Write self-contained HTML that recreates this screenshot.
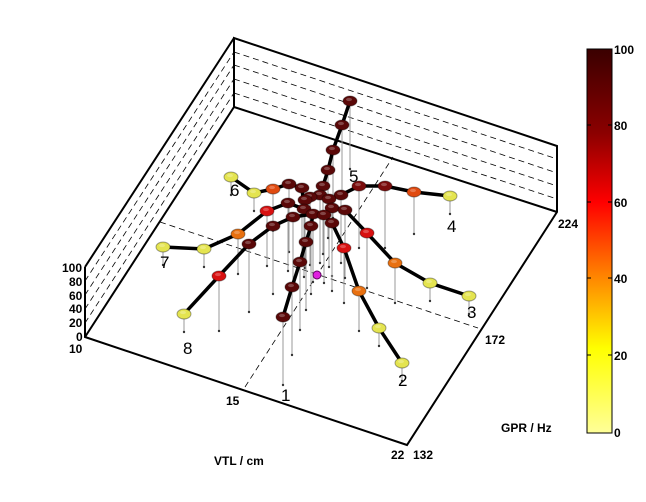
<!DOCTYPE html>
<html><head><meta charset="utf-8"><style>
html,body{margin:0;padding:0;background:#fff;}
svg{display:block;font-family:"Liberation Sans",Arial,sans-serif;}
</style></head><body>
<svg id="s" width="646" height="502" viewBox="0 0 646 502" xmlns="http://www.w3.org/2000/svg">
<defs>
<linearGradient id="cb" x1="0" y1="0" x2="0" y2="1">
<stop offset="0" stop-color="#3a0000"/><stop offset="0.22" stop-color="#8c0000"/>
<stop offset="0.4" stop-color="#ff0000"/><stop offset="0.6" stop-color="#ff8a00"/>
<stop offset="0.78" stop-color="#ffff00"/><stop offset="1" stop-color="#ffff99"/>
</linearGradient>
</defs>
<g fill="none" stroke="#000" stroke-width="0.8" stroke-dasharray="6,4">
<line x1="234" y1="93" x2="557" y2="199"/><line x1="234" y1="79" x2="557" y2="186"/>
<line x1="234" y1="65" x2="557" y2="173"/><line x1="234" y1="52" x2="557" y2="159"/>
<line x1="85" y1="323" x2="234" y2="93"/><line x1="85" y1="309" x2="234" y2="79"/>
<line x1="85" y1="295" x2="234" y2="65"/><line x1="85" y1="281" x2="234" y2="52"/>
<line x1="245" y1="387" x2="393" y2="157"/><line x1="160" y1="222" x2="478" y2="328"/>
</g>
<g fill="none" stroke="#000" stroke-width="2">
<polyline points="85,267 85,337 407,445 557,212 557,146 234,38 234,107 557,212"/>
<line x1="85" y1="267" x2="234" y2="38"/><line x1="85" y1="337" x2="234" y2="107"/>
</g>
<g font-size="12" font-weight="bold" fill="#000">
<text x="62" y="272">100</text><text x="69" y="286">80</text><text x="69" y="300">60</text>
<text x="69" y="313">40</text><text x="69" y="327">20</text><text x="76" y="341">0</text>
<text x="69" y="353">10</text>
<text x="226" y="405">15</text><text x="391" y="459">22</text><text x="413" y="459">132</text>
<text x="485" y="344">172</text><text x="558" y="228">224</text>
<text x="501" y="432">GPR / Hz</text><text x="214" y="465">VTL / cm</text>
</g>
<g id="drops" stroke="#999" stroke-width="1"></g>
<g id="links" stroke="#000" stroke-width="3.5" fill="none" stroke-linecap="round"></g>
<g id="nodes"></g>
<circle cx="317" cy="275" r="4" fill="#e020e0" stroke="#600060" stroke-width="1"/>
<g font-size="17" fill="#000">
<text x="281" y="401">1</text><text x="398" y="386">2</text><text x="467" y="318">3</text>
<text x="447" y="232">4</text><text x="349" y="182">5</text><text x="230" y="196">6</text>
<text x="160" y="268">7</text><text x="183" y="354">8</text>
</g>
<rect x="587" y="49" width="25" height="384" fill="url(#cb)" stroke="#000" stroke-width="1"/>
<g stroke="#000" stroke-width="1">
<line x1="587" y1="125" x2="591" y2="125"/><line x1="608" y1="125" x2="612" y2="125"/>
<line x1="587" y1="202" x2="591" y2="202"/><line x1="608" y1="202" x2="612" y2="202"/>
<line x1="587" y1="278" x2="591" y2="278"/><line x1="608" y1="278" x2="612" y2="278"/>
<line x1="587" y1="355" x2="591" y2="355"/><line x1="608" y1="355" x2="612" y2="355"/>
</g>
<g font-size="12" font-weight="bold" fill="#000">
<text x="614" y="54">100</text><text x="614" y="130">80</text><text x="614" y="207">60</text>
<text x="614" y="283">40</text><text x="614" y="360">20</text><text x="614" y="437">0</text>
</g>
</svg>
<script>
var C={d:"#5a0808",k:"#7a0c0c",r:"#d81010",o:"#e87010",q:"#e04a10",y:"#e4e450"};
var L={d:68,k:62,r:55,o:40,q:42,y:18};
var ring=[[310,197],[320,195],[329,199],[332,208],[324,215],[313,214],[304,209],[305,200]];
var spokes=[
 [[6,"d"],[302,188,"d"],[289,184,"d"],[273,189,"q"],[254,193,"y"],[231,177,"y"]],
 [[6,"d"],[288,203,"d"],[267,211,"r"],[238,234,"o"],[204,249,"y"],[163,247,"y"]],
 [[5,"d"],[293,217,"d"],[273,226,"d"],[249,244,"d"],[219,276,"r"],[184,314,"y"]],
 [[5,"d"],[311,226,"d"],[306,242,"d"],[300,262,"d"],[292,287,"d"],[283,317,"d"]],
 [[4,"d"],[332,223,"d"],[344,248,"r"],[359,291,"o"],[379,328,"y"],[402,363,"y"]],
 [[3,"d"],[345,210,"d"],[367,233,"r"],[395,263,"o"],[430,283,"y"],[469,296,"y"]],
 [[2,"d"],[341,195,"d"],[359,186,"k"],[385,186,"k"],[414,192,"q"],[450,196,"y"]],
 [[1,"d"],[323,186,"d"],[328,170,"d"],[333,150,"d"],[342,125,"d"],[350,101,"d"]]
];
var ns="http://www.w3.org/2000/svg";
function el(g,t,a){var e=document.createElementNS(ns,t);for(var k in a)e.setAttribute(k,a[k]);document.getElementById(g).appendChild(e);}
var all=[];
ring.forEach(function(p){all.push([p[0],p[1],"d"]);});
var rp=ring.map(function(p){return p.join(",")}).join(" ");
el("links","polygon",{points:rp});
spokes.forEach(function(s){
 var st=ring[s[0][0]];var pts=[st.join(",")];
 for(var i=1;i<s.length;i++){pts.push(s[i][0]+","+s[i][1]);all.push(s[i]);}
 el("links","polyline",{points:pts.join(" ")});
});
all.forEach(function(n){
 var l=L[n[2]];
 el("drops","line",{x1:n[0],y1:n[1],x2:n[0],y2:n[1]+l});
 el("drops","circle",{cx:n[0],cy:n[1]+l,r:1.2,fill:"#333",stroke:"none"});
});
all.sort(function(a,b){return a[1]-b[1]});
all.forEach(function(n){
 el("nodes","ellipse",{cx:n[0],cy:n[1],rx:7,ry:5,fill:C[n[2]],stroke:"rgba(0,0,0,0.35)","stroke-width":1});
 el("nodes","ellipse",{cx:n[0]-1,cy:n[1]-1.5,rx:3,ry:1.6,fill:"rgba(255,255,255,0.25)"});
});
</script>
</body></html>
